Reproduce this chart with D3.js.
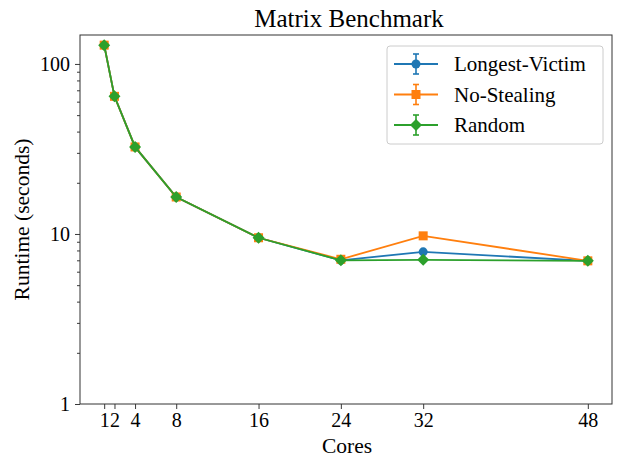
<!DOCTYPE html>
<html><head><meta charset="utf-8">
<script src="https://cdn.jsdelivr.net/npm/d3@7"></script>
<style>body{margin:0;background:#fff}svg{display:block}text{font-family:"Liberation Serif","DejaVu Serif",serif;fill:#000}</style>
</head><body><div id="c"></div>
<script>
const cores = [1, 2, 4, 8, 16, 24, 32, 48];
const xTicks = [1, 2, 4, 8, 16, 24, 32, 48];
const yTicks = [1, 10, 100];
const longestVictim = [129, 64.5, 32.5, 16.5, 9.5, 7.0, 7.85, 6.95];
const noStealing   = [129, 64.5, 32.5, 16.5, 9.5, 7.1, 9.75, 6.95];
const randomSteal  = [129, 64.5, 32.5, 16.5, 9.5, 7.0, 7.05, 6.95];
const seriesNames = ["Longest-Victim", "No-Stealing", "Random"];
const colors = ["#1f77b4", "#ff7f0e", "#2ca02c"];
const shapes = ["circle", "square", "diamond"];
const SERIF = "'Liberation Serif','DejaVu Serif',serif";

const W = 618, H = 460;
const L = 80, R = 612, T = 35, B = 404;
const svg = d3.select("#c").append("svg").attr("width", W).attr("height", H);
const x = d3.scaleLinear().domain([-1.35, 50.35]).range([L, R]);
const y = d3.scaleLog().domain([1, 148]).range([B, T]);

// axes
svg.append("g").attr("transform", `translate(0,${B})`)
  .call(d3.axisBottom(x).tickValues(xTicks).tickSize(5).tickPadding(4).tickFormat(d3.format("d")));
const minor = [];
for (let d = 1; d <= 100; d *= 10) for (let k = 2; k <= 9; k++) if (d * k <= 148) minor.push(d * k);
svg.append("g").attr("transform", `translate(${L},0)`)
  .call(d3.axisLeft(y).tickValues(minor).tickSize(3).tickFormat(""));
svg.append("g").attr("transform", `translate(${L},0)`)
  .call(d3.axisLeft(y).tickValues(yTicks).tickSize(5).tickPadding(5).tickFormat(d3.format("d")));
svg.selectAll(".domain").remove();
svg.selectAll(".tick line").attr("stroke", "#222").attr("stroke-width", 0.9);
svg.selectAll(".tick text").style("font-size", "20px").style("font-family", SERIF).attr("fill", "#222");
svg.append("rect").attr("x", L).attr("y", T).attr("width", R - L).attr("height", B - T)
  .attr("fill", "none").attr("stroke", "#333").attr("stroke-width", 1);

svg.append("text").attr("x", (L + R) / 2 + 3).attr("y", 27).attr("text-anchor", "middle")
  .style("font-family", SERIF).style("font-size", "25px").text("Matrix Benchmark");
svg.append("text").attr("x", (L + R) / 2 + 1).attr("y", 453).attr("text-anchor", "middle")
  .style("font-family", SERIF).style("font-size", "21.5px").text("Cores");
svg.append("text").attr("transform", `translate(29,${(T + B) / 2}) rotate(-90)`).attr("text-anchor", "middle")
  .style("font-family", SERIF).style("font-size", "21.5px").text("Runtime (seconds)");

function marker(g, shape, cx, cy, color) {
  if (shape === "circle") g.append("circle").attr("cx", cx).attr("cy", cy).attr("r", 4.5).attr("fill", color);
  else if (shape === "square") g.append("rect").attr("x", cx - 4.5).attr("y", cy - 4.5).attr("width", 9).attr("height", 9).attr("fill", color);
  else g.append("path").attr("d", `M${cx},${cy - 6}L${cx + 6},${cy}L${cx},${cy + 6}L${cx - 6},${cy}Z`).attr("fill", color);
}

const allData = [longestVictim, noStealing, randomSteal];
const line = d3.line().x((d, i) => x(cores[i])).y(d => y(d));
allData.forEach((vals, s) => {
  const g = svg.append("g");
  g.append("path").datum(vals).attr("d", line).attr("fill", "none").attr("stroke", colors[s]).attr("stroke-width", 1.8);
  vals.forEach((v, i) => marker(g, shapes[s], x(cores[i]), y(v), colors[s]));
});

// legend
const lg = svg.append("g");
lg.append("rect").attr("x", 387).attr("y", 46).attr("width", 216).attr("height", 98).attr("rx", 3)
  .attr("fill", "#fff").attr("stroke", "#ccc").attr("stroke-width", 1);
seriesNames.forEach((n, i) => {
  const cy = 64 + i * 30.5, cx = 416;
  lg.append("line").attr("x1", 394).attr("x2", 438).attr("y1", cy).attr("y2", cy).attr("stroke", colors[i]).attr("stroke-width", 1.8);
  lg.append("line").attr("x1", cx).attr("x2", cx).attr("y1", cy - 10).attr("y2", cy + 10).attr("stroke", colors[i]).attr("stroke-width", 1.6);
  lg.append("line").attr("x1", cx - 3).attr("x2", cx + 3).attr("y1", cy - 10).attr("y2", cy - 10).attr("stroke", colors[i]).attr("stroke-width", 1.6);
  lg.append("line").attr("x1", cx - 3).attr("x2", cx + 3).attr("y1", cy + 10).attr("y2", cy + 10).attr("stroke", colors[i]).attr("stroke-width", 1.6);
  marker(lg, shapes[i], cx, cy, colors[i]);
  lg.append("text").attr("x", 454).attr("y", cy + 7).style("font-family", SERIF).style("font-size", "21px").text(n);
});
</script></body></html>
